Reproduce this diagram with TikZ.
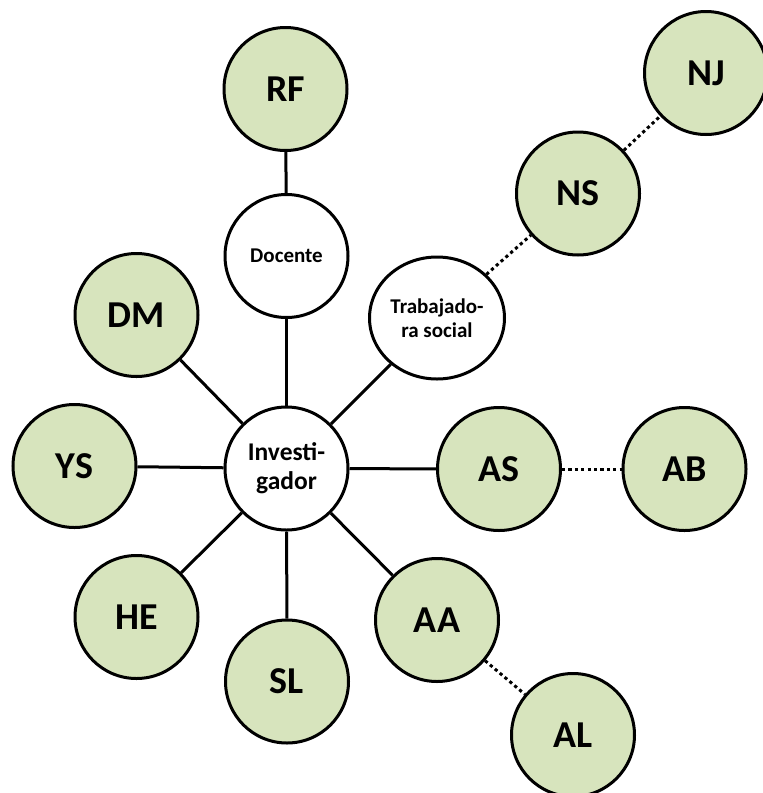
\documentclass[tikz,border=0pt]{standalone}
\usepackage{fontspec}
\setmainfont{Carlito}
\usetikzlibrary{shapes.geometric}
\definecolor{leaf}{HTML}{D7E4BD}
\begin{document}
\begin{tikzpicture}[x=1pt,y=-1pt,
  person/.style={circle,draw=black,line width=3pt,fill=leaf,minimum size=123pt,inner sep=0pt,
    font=\fontsize{38}{40}\selectfont\bfseries},
  role/.style={circle,draw=black,line width=3pt,fill=white,minimum size=123pt,inner sep=0pt,
    align=center,font=\fontsize{21}{24}\selectfont\bfseries},
  tie/.style={line width=3pt},
  weaktie/.style={line width=3pt,dash pattern=on 3.2pt off 3.2pt}]
\useasboundingbox (0,0) rectangle (763,793);
\clip (0,0) rectangle (763,793);

% central researcher and intermediary roles
\node[role,font=\fontsize{25.5}{29}\selectfont\bfseries] (inv) at (286.5,468.5) {Investi-\\gador};
\node[role] (doc) at (286.5,256) {Docente};
\node[role,ellipse,minimum width=135pt,minimum height=122pt] (trab) at (437,318) {Trabajado-\\ra social};

% participants
\node[person] (rf) at (285.5,89) {RF};
\node[person] (nj) at (706,73) {NJ};
\node[person] (ns) at (578,193.5) {NS};
\node[person] (dm) at (136.5,315) {DM};
\node[person] (ys) at (74.5,466) {YS};
\node[person] (as) at (499,469) {AS};
\node[person] (ab) at (684.5,469) {AB};
\node[person] (he) at (136.5,617) {HE};
\node[person] (aa) at (437,620) {AA};
\node[person] (sl) at (287,681.5) {SL};
\node[person] (al) at (573,735) {AL};

% direct contacts
\draw[tie] (rf) -- (doc);
\draw[tie] (doc) -- (inv);
\draw[tie] (trab) -- (inv);
\draw[tie] (dm) -- (inv);
\draw[tie] (ys) -- (inv);
\draw[tie] (he) -- (inv);
\draw[tie] (sl) -- (inv);
\draw[tie] (aa) -- (inv);
\draw[tie] (as) -- (inv);

% referrals
\draw[weaktie] (trab) -- (ns);
\draw[weaktie] (ns) -- (nj);
\draw[weaktie] (as) -- (ab);
\draw[weaktie] (aa) -- (al);
\end{tikzpicture}
\end{document}
